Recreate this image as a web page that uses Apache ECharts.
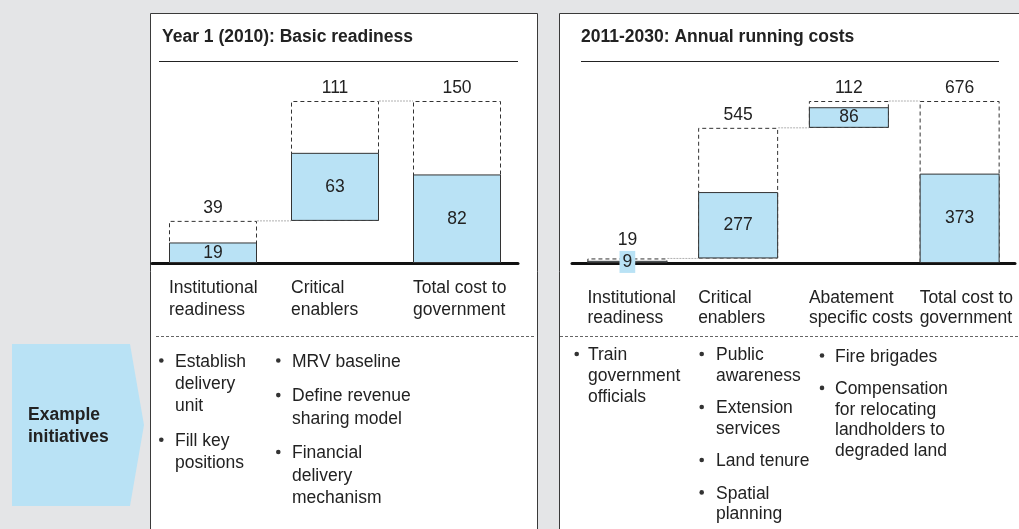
<!DOCTYPE html>
<html>
<head>
<meta charset="utf-8">
<script src="https://cdn.jsdelivr.net/npm/echarts@6/dist/echarts.min.js"></script>
<style>
  html, body { margin: 0; padding: 0; background: #e4e5e7; }
  #chart { width: 1019px; height: 529px; }
</style>
</head>
<body>
<div id="chart"></div>
<script>
// ---- Year 1 (2010): one-off readiness costs ----
const yearOneTitle = 'Year 1 (2010): Basic readiness';
const yearOneCategories = ['Institutional\nreadiness', 'Critical\nenablers', 'Total cost to\ngovernment'];
const yearOneTotals = [39, 111, 150];   // full step (dashed outline)
const yearOneCore = [19, 63, 82];       // core share (blue fill)
const yearOneInitiatives = [
  [['Establish', 'delivery', 'unit'], ['Fill key', 'positions']],
  [['MRV baseline'], ['Define revenue', 'sharing model'], ['Financial', 'delivery', 'mechanism']]
];

// ---- 2011-2030: annual running costs ----
const runningTitle = '2011-2030: Annual running costs';
const runningCategories = ['Institutional\nreadiness', 'Critical\nenablers', 'Abatement\nspecific costs', 'Total cost to\ngovernment'];
const runningTotals = [19, 545, 112, 676];
const runningCore = [9, 277, 86, 373];
const runningInitiatives = [
  [['Train', 'government', 'officials']],
  [['Public', 'awareness'], ['Extension', 'services'], ['Land tenure'], ['Spatial', 'planning']],
  [['Fire brigades'], ['Compensation', 'for relocating', 'landholders to', 'degraded land']]
];

const sideLabel = ['Example', 'initiatives'];

const FONT = '"Liberation Sans", Arial, Helvetica, sans-serif';
const FS = 17.5;
const TEXT = '#222';
const BLUE = '#b9e2f5';
const EDGE = '#333';

// Waterfall offsets: each step starts where the previous one ended, the last column is a total from zero.
function offsets(totals) {
  let acc = 0;
  return totals.map((v, i) => {
    if (i === totals.length - 1) return 0;
    const b = acc; acc += v; return b;
  });
}

function waterfallSeries(gridIndex, totals, core, barW, axisMax) {
  const base = offsets(totals);
  const idx = gridIndex;
  const tiny = v => v / axisMax < 0.03;   // bar too thin to hold its own label
  const common = { type: 'bar', xAxisIndex: idx, yAxisIndex: idx, barWidth: barW, barGap: '-100%', animation: false };
  const hidden = { itemStyle: { color: 'transparent', borderWidth: 0 }, silent: true, label: { show: false } };
  const connectors = base.slice(0, -1).map((b, i) => [i, b + totals[i]]);
  return [
    Object.assign({}, common, hidden, { stack: 'outline' + idx, data: base }),
    Object.assign({}, common, {
      stack: 'outline' + idx,
      itemStyle: { color: 'rgba(255,255,255,0)', borderColor: EDGE, borderWidth: 1, borderType: [4, 3] },
      label: { show: true, position: 'top', fontFamily: FONT, fontSize: FS, color: TEXT },
      data: totals.map((v, i) => ({ value: v, label: { distance: tiny(core[i]) ? 9 : 4 } }))
    }),
    Object.assign({}, common, hidden, { stack: 'core' + idx, data: base }),
    Object.assign({}, common, {
      stack: 'core' + idx,
      itemStyle: { color: BLUE, borderColor: EDGE, borderWidth: 1 },
      label: { show: true, position: 'inside', fontFamily: FONT, fontSize: FS, color: TEXT },
      data: core.map(v => tiny(v)
        ? { value: v, label: { backgroundColor: BLUE, padding: [2, 3] } }
        : v)
    }),
    {
      type: 'custom', xAxisIndex: idx, yAxisIndex: idx, silent: true, animation: false, z: 1,
      renderItem(params, api) {
        const p = api.coord([api.value(0), api.value(1)]);
        const band = api.size([1, 0])[0];
        return {
          type: 'line',
          shape: { x1: p[0] + barW / 2, y1: p[1], x2: p[0] + band - barW / 2, y2: p[1] },
          style: { stroke: '#b0b0b0', lineWidth: 1, lineDash: [2, 1] }
        };
      },
      data: connectors
    }
  ];
}

const LEFT_W = 88, RIGHT_W = 80;
const chart = echarts.init(document.getElementById('chart'), null, { renderer: 'canvas' });

chart.setOption({
  backgroundColor: '#e4e5e7',
  animation: false,
  grid: [
    { left: 152, top: 101, width: 366, height: 162 },
    { left: 572, top: 101, width: 443, height: 162 }
  ],
  xAxis: [yearOneCategories, runningCategories].map((cats, i) => ({
    type: 'category', gridIndex: i, data: cats,
    axisLine: { lineStyle: { color: '#111', width: 3 } },
    axisTick: { show: false }, axisLabel: { show: false }, splitLine: { show: false }
  })),
  yAxis: [yearOneTotals, runningTotals].map((t, i) => ({
    type: 'value', gridIndex: i, min: 0, max: t[t.length - 1], show: false
  })),
  series: [
    ...waterfallSeries(0, yearOneTotals, yearOneCore, LEFT_W, yearOneTotals[yearOneTotals.length - 1]),
    ...waterfallSeries(1, runningTotals, runningCore, RIGHT_W, runningTotals[runningTotals.length - 1])
  ]
});

// ---- panels, headings and text blocks ----
const g = [];
function text(x, y, s, opts) {
  g.push(Object.assign({
    type: 'text', x, y, z: 5,
    style: Object.assign({ text: s, font: FS + 'px ' + FONT, fill: TEXT, verticalAlign: 'middle', align: 'left' }, opts || {})
  }));
}
function line(x1, y1, x2, y2, style) {
  g.push({ type: 'line', z: 1, shape: { x1, y1, x2, y2 }, style: Object.assign({ stroke: EDGE, lineWidth: 1 }, style) });
}

g.push({ type: 'rect', z: 0, shape: { x: 150.5, y: 13.5, width: 387, height: 540 }, style: { fill: '#fff', stroke: '#3a3a3a', lineWidth: 1 } });
g.push({ type: 'rect', z: 0, shape: { x: 559.5, y: 13.5, width: 480, height: 540 }, style: { fill: '#fff', stroke: '#3a3a3a', lineWidth: 1 } });

text(162, 37, yearOneTitle, { font: 'bold ' + FS + 'px ' + FONT });
text(581, 37, runningTitle, { font: 'bold ' + FS + 'px ' + FONT });
line(159, 61.5, 518, 61.5, { stroke: '#222' });
line(581, 61.5, 999, 61.5, { stroke: '#222' });

// category captions, left-aligned with each bar's left edge
function captions(gridIndex, cats, barW, y1, y2) {
  cats.forEach((c, i) => {
    const px = chart.convertToPixel({ gridIndex }, [i, 0]);
    const parts = c.split('\n');
    text(px[0] - barW / 2, y1, parts[0]);
    text(px[0] - barW / 2, y2, parts[1]);
  });
}
captions(0, yearOneCategories, LEFT_W, 288, 310.5);
captions(1, runningCategories, RIGHT_W, 298, 318.5);

line(156, 336.5, 536, 336.5, { stroke: '#666', lineDash: [3, 2] });
line(560, 336.5, 1019, 336.5, { stroke: '#666', lineDash: [3, 2] });

// bulleted initiative lists
function bullets(cols, lineH, gap) {
  cols.forEach(col => {
    let row = 0;
    col.items.forEach((item, k) => {
      item.forEach((s, j) => {
        const y = col.y0 + row * lineH + k * gap;
        if (j === 0) g.push({ type: 'circle', z: 5, shape: { cx: col.dot, cy: y - 1.5, r: 2.3 }, style: { fill: '#333' } });
        text(col.x, y, s);
        row++;
      });
    });
  });
}
bullets([
  { dot: 161.3, x: 175, y0: 362, items: yearOneInitiatives[0] },
  { dot: 278.3, x: 292, y0: 362, items: yearOneInitiatives[1] }
], 22.3, 12.3);
bullets([
  { dot: 576.7, x: 588, y0: 355.5, items: runningInitiatives[0] },
  { dot: 701.7, x: 716, y0: 355.5, items: runningInitiatives[1] },
  { dot: 822, x: 835, y0: 357, items: runningInitiatives[2] }
], 20.6, 11.8);

// side chevron
g.push({
  type: 'polygon', z: 1,
  shape: { points: [[12, 344], [130, 344], [144, 425], [130, 506], [12, 506]] },
  style: { fill: BLUE }
});
text(28, 415.5, sideLabel[0], { font: 'bold ' + FS + 'px ' + FONT });
text(28, 437.5, sideLabel[1], { font: 'bold ' + FS + 'px ' + FONT });

chart.setOption({ graphic: { elements: g } });
</script>
</body>
</html>
